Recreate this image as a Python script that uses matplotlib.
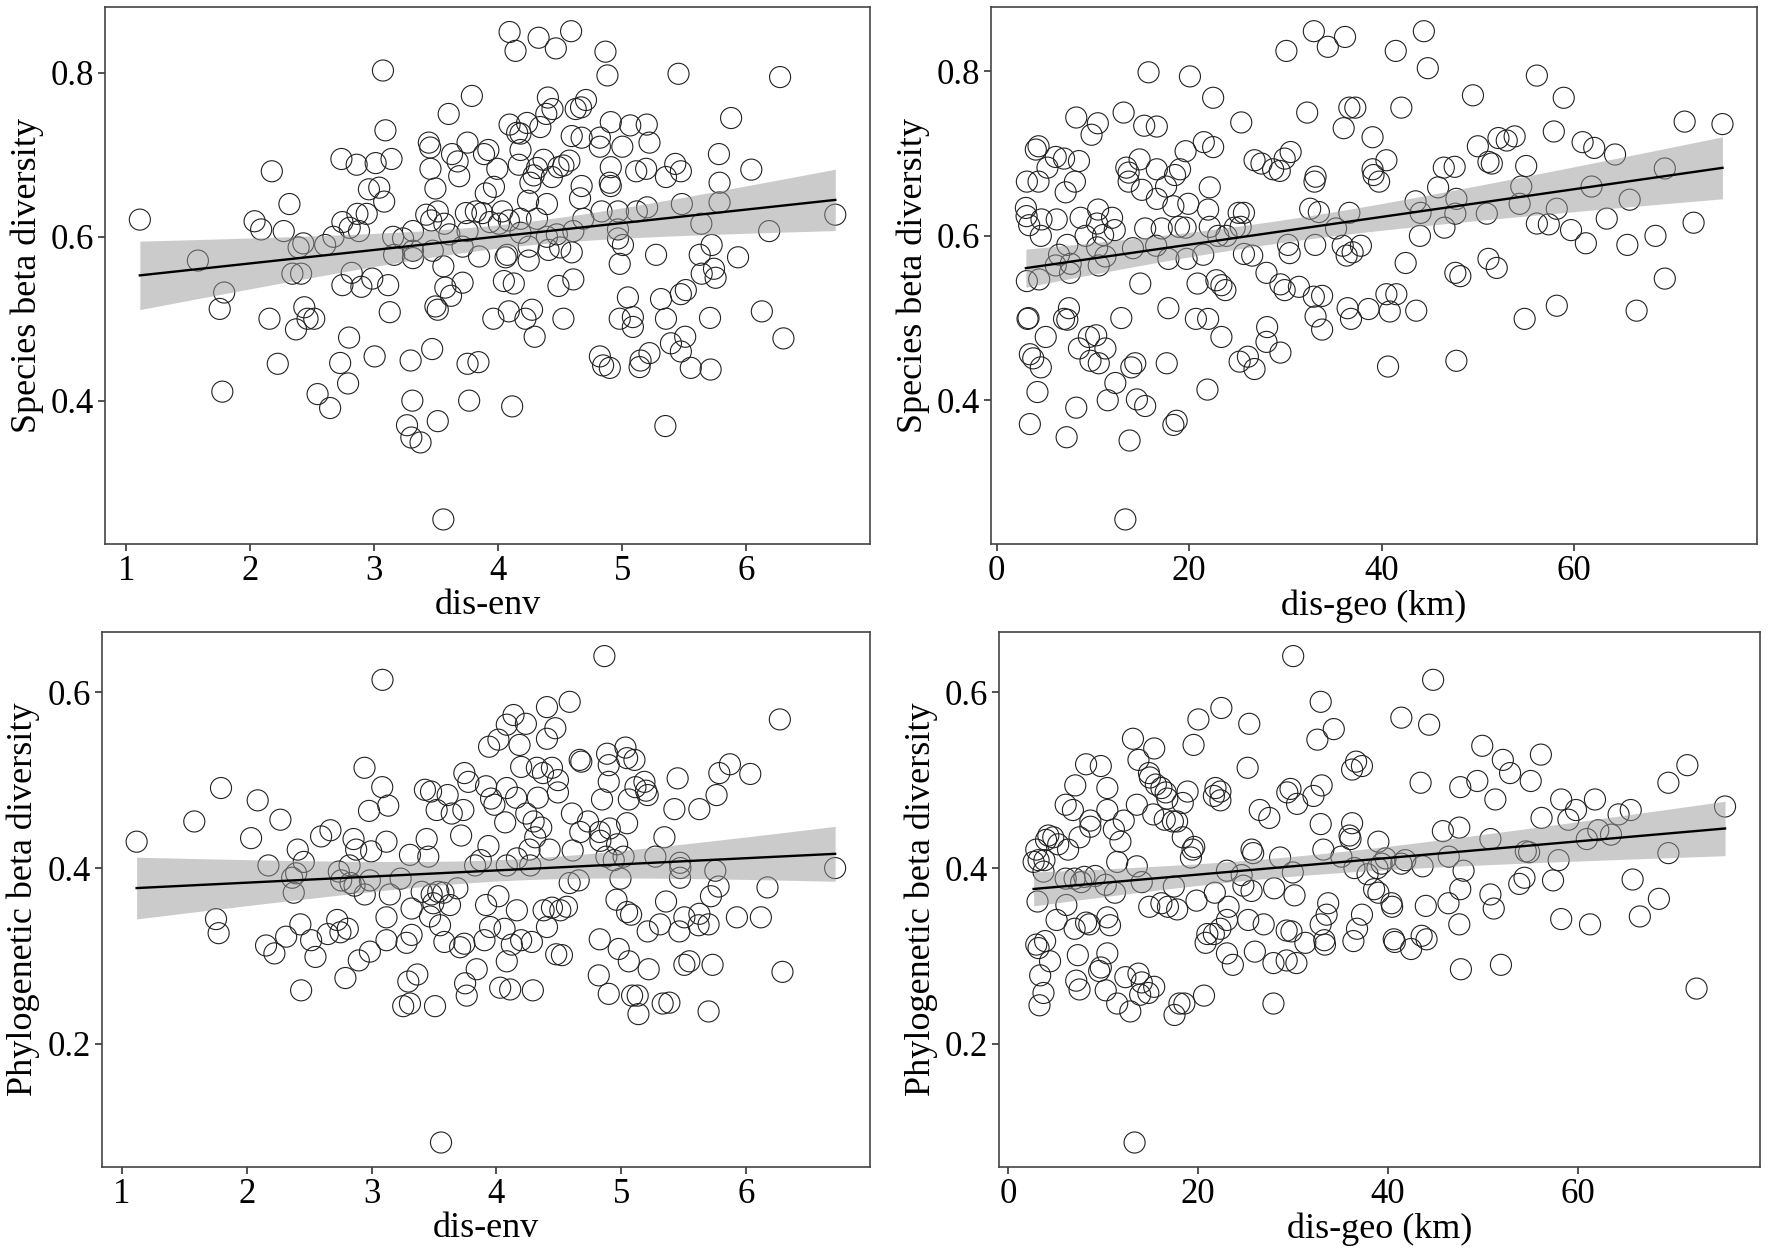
import numpy as np
import matplotlib
matplotlib.use('Agg')
import matplotlib.pyplot as plt

plt.rcParams['font.family'] = ['Liberation Serif', 'DejaVu Serif']

# Верхний левый: dis-env vs species beta
env_sp = [
    (1.11, 0.621), (1.578, 0.571), (1.79, 0.532), (1.754, 0.512), (1.775, 0.411), (2.174, 0.680),
    (2.316, 0.640), (2.035, 0.619), (2.088, 0.609), (2.27, 0.607), (2.155, 0.500), (2.222, 0.445),
    (2.39, 0.587), (2.428, 0.592), (2.34, 0.555), (2.41, 0.555), (2.436, 0.514), (2.462, 0.50),
    (2.516, 0.50), (2.369, 0.487), (2.543, 0.408), (2.644, 0.391), (2.604, 0.590), (2.671, 0.600),
    (2.735, 0.695), (2.858, 0.688), (2.743, 0.618), (2.802, 0.611), (2.864, 0.628), (2.877, 0.607),
    (2.939, 0.628), (2.818, 0.556), (2.743, 0.541), (2.896, 0.539), (2.984, 0.549), (2.797, 0.477),
    (2.725, 0.446), (2.789, 0.421), (3.003, 0.454), (2.957, 0.658), (3.011, 0.690), (3.04, 0.66),
    (3.07, 0.803), (3.09, 0.73), (3.08, 0.643),
    (4.091, 0.850), (4.139, 0.827), (4.325, 0.843), (4.464, 0.830), (4.587, 0.851), (4.864, 0.826),
    (4.880, 0.797), (3.787, 0.772), (3.60, 0.750), (4.40, 0.770), (4.437, 0.756), (4.387, 0.750),
    (4.624, 0.756), (4.667, 0.758), (4.707, 0.767), (4.091, 0.737), (4.152, 0.727), (4.232, 0.739),
    (4.179, 0.726), (4.339, 0.734), (4.907, 0.740), (3.44, 0.715), (3.451, 0.709), (3.752, 0.715),
    (3.627, 0.701), (3.672, 0.692), (3.92, 0.706), (3.885, 0.701), (3.453, 0.683), (3.685, 0.674),
    (3.992, 0.683), (4.179, 0.706), (4.165, 0.688), (4.592, 0.723), (4.672, 0.721), (4.819, 0.721),
    (4.819, 0.710), (5.0, 0.710), (4.365, 0.694), (4.312, 0.684), (4.285, 0.675), (4.485, 0.685),
    (4.525, 0.687), (4.573, 0.693), (4.432, 0.673), (4.907, 0.685), (4.899, 0.666), (4.907, 0.662),
    (4.259, 0.666), (4.672, 0.662), (4.659, 0.647), (4.832, 0.631), (3.139, 0.695), (3.493, 0.659),
    (3.899, 0.653), (3.965, 0.661), (4.24, 0.644), (4.392, 0.640), (3.419, 0.627), (3.512, 0.631),
    (3.565, 0.616), (3.459, 0.620), (3.605, 0.603), (3.739, 0.629), (3.819, 0.631), (3.872, 0.629),
    (4.032, 0.631), (3.933, 0.618), (4.005, 0.616), (4.085, 0.620), (4.179, 0.622), (4.312, 0.622),
    (3.752, 0.607), (4.179, 0.605), (4.392, 0.600), (4.472, 0.603), (4.605, 0.607), (4.685, 0.622),
    (4.965, 0.631), (4.965, 0.609), (3.152, 0.600), (3.232, 0.598), (3.312, 0.607), (3.16, 0.578),
    (3.312, 0.583), (3.312, 0.574), (3.472, 0.583), (3.712, 0.588), (3.845, 0.576), (4.072, 0.578),
    (4.059, 0.575), (4.245, 0.588), (4.245, 0.571), (4.405, 0.584), (4.499, 0.587), (4.592, 0.581),
    (4.965, 0.598), (5.005, 0.590), (3.557, 0.564), (4.979, 0.567), (3.112, 0.541), (3.712, 0.544),
    (3.573, 0.538), (3.619, 0.528), (4.045, 0.546), (4.125, 0.543), (4.485, 0.540), (4.605, 0.548),
    (3.125, 0.508), (3.493, 0.515), (3.512, 0.511), (3.96, 0.500), (4.085, 0.509), (4.219, 0.500),
    (4.272, 0.511), (4.293, 0.478), (4.525, 0.500), (4.979, 0.500), (5.045, 0.526), (3.293, 0.449),
    (3.467, 0.463), (3.752, 0.445), (3.84, 0.447), (4.819, 0.454), (4.845, 0.443), (4.899, 0.440),
    (3.307, 0.400), (3.765, 0.400), (4.112, 0.393), (3.264, 0.370), (3.299, 0.355), (3.373, 0.349),
    (3.512, 0.375), (3.557, 0.255),
    (5.453, 0.799), (6.272, 0.795), (5.877, 0.745), (5.064, 0.736), (5.197, 0.737), (5.219, 0.715),
    (5.779, 0.701), (6.04, 0.682), (5.112, 0.680), (5.192, 0.683), (5.427, 0.689), (5.472, 0.680),
    (5.352, 0.673), (5.784, 0.666), (5.2, 0.636), (5.117, 0.631), (5.48, 0.640), (5.784, 0.642),
    (5.637, 0.616), (6.717, 0.627), (6.184, 0.607), (5.272, 0.578), (5.624, 0.578), (5.72, 0.590),
    (5.933, 0.575), (5.64, 0.555), (5.739, 0.561), (5.752, 0.550), (5.312, 0.524), (5.472, 0.530),
    (5.512, 0.535), (5.085, 0.502), (5.085, 0.490), (5.352, 0.500), (5.707, 0.501), (6.125, 0.509),
    (6.299, 0.476), (5.392, 0.470), (5.507, 0.478), (5.472, 0.460), (5.139, 0.441), (5.147, 0.449),
    (5.219, 0.458), (5.552, 0.440), (5.712, 0.438), (5.347, 0.369),
]

# Верхний правый: dis-geo vs species beta
geo_sp = [
    (15.77, 0.799), (20.07, 0.794), (22.48, 0.768), (25.40, 0.738), (8.26, 0.744), (10.5, 0.737),
    (9.85, 0.723), (13.18, 0.750), (15.32, 0.734), (16.63, 0.733), (4.06, 0.705), (4.34, 0.709),
    (6.13, 0.696), (6.99, 0.694), (8.54, 0.691), (5.27, 0.683), (3.13, 0.666), (4.34, 0.666),
    (7.16, 0.653), (8.12, 0.666), (3.03, 0.634), (3.1, 0.624), (3.37, 0.613), (4.65, 0.620),
    (6.23, 0.620), (4.58, 0.600), (8.71, 0.622), (9.23, 0.600), (10.53, 0.632), (10.43, 0.615),
    (11.05, 0.601), (11.98, 0.622), (12.26, 0.607), (13.46, 0.683), (13.7, 0.677), (13.7, 0.666),
    (14.84, 0.693), (15.08, 0.656), (16.63, 0.681), (16.63, 0.645), (17.59, 0.660), (18.52, 0.674),
    (19.04, 0.681), (19.62, 0.703), (21.51, 0.714), (22.48, 0.708), (22.13, 0.659), (19.9, 0.639),
    (18.35, 0.636), (21.96, 0.632), (15.42, 0.609), (17.14, 0.609), (18.93, 0.611), (19.62, 0.610),
    (22.13, 0.611), (25.13, 0.628), (25.68, 0.628), (24.72, 0.610), (25.34, 0.611), (23.0, 0.600),
    (23.86, 0.600), (26.78, 0.692), (7.33, 0.589), (6.47, 0.577), (7.68, 0.566), (6.13, 0.564),
    (10.43, 0.586), (11.29, 0.575), (10.6, 0.564), (14.15, 0.585), (16.56, 0.588), (17.83, 0.572),
    (19.72, 0.572), (21.45, 0.577), (25.68, 0.578), (26.54, 0.576), (3.13, 0.545), (4.41, 0.547),
    (7.61, 0.555), (14.91, 0.542), (20.86, 0.542), (22.82, 0.546), (23.34, 0.540), (23.75, 0.534),
    (3.3, 0.500), (3.2, 0.499), (7.5, 0.512), (6.99, 0.499), (7.33, 0.498), (5.09, 0.477),
    (12.94, 0.500), (17.83, 0.512), (20.69, 0.499), (21.96, 0.499), (23.34, 0.477), (9.57, 0.477),
    (10.33, 0.479), (11.29, 0.463), (8.54, 0.463), (3.44, 0.456), (3.79, 0.451), (4.58, 0.440),
    (9.74, 0.448), (10.6, 0.445), (13.98, 0.440), (14.39, 0.445), (17.66, 0.445), (25.23, 0.447),
    (26.09, 0.453), (26.78, 0.438), (4.23, 0.410), (12.32, 0.421), (11.53, 0.400), (14.56, 0.401),
    (15.42, 0.393), (21.89, 0.413), (8.26, 0.391), (3.44, 0.371), (7.26, 0.355), (13.8, 0.351),
    (18.35, 0.370), (18.69, 0.375), (13.36, 0.255),
    (32.94, 0.849), (34.39, 0.830), (36.18, 0.842), (30.09, 0.825), (41.45, 0.825), (44.37, 0.849),
    (44.78, 0.804), (49.47, 0.771), (32.25, 0.750), (36.63, 0.756), (37.25, 0.756), (36.04, 0.731),
    (39.04, 0.720), (42.03, 0.756), (27.5, 0.688), (28.71, 0.681), (29.4, 0.679), (29.91, 0.694),
    (30.53, 0.702), (33.01, 0.666), (33.12, 0.672), (39.04, 0.681), (39.14, 0.674), (39.72, 0.666),
    (40.48, 0.692), (46.44, 0.683), (47.57, 0.684), (49.98, 0.709), (51.08, 0.690), (51.43, 0.688),
    (52.12, 0.719), (52.98, 0.716), (45.85, 0.659), (43.51, 0.642), (44.03, 0.628), (43.96, 0.600),
    (47.75, 0.645), (47.64, 0.627), (46.51, 0.610), (50.91, 0.627), (32.56, 0.633), (33.46, 0.629),
    (36.63, 0.628), (35.25, 0.609), (30.26, 0.589), (30.43, 0.579), (33.08, 0.589), (35.94, 0.588),
    (36.35, 0.576), (36.97, 0.580), (37.83, 0.588), (42.48, 0.567), (47.64, 0.555), (48.16, 0.551),
    (51.08, 0.572), (51.94, 0.561), (28.02, 0.555), (29.47, 0.541), (29.91, 0.534), (31.39, 0.538),
    (32.94, 0.526), (33.8, 0.527), (33.12, 0.502), (33.8, 0.486), (36.45, 0.512), (36.8, 0.499),
    (38.62, 0.511), (40.48, 0.529), (41.51, 0.529), (40.83, 0.508), (43.58, 0.509), (28.09, 0.489),
    (28.02, 0.471), (29.47, 0.458), (40.65, 0.441), (47.75, 0.448),
    (56.11, 0.795), (58.9, 0.768), (71.46, 0.739), (75.39, 0.736), (53.8, 0.721), (57.87, 0.727),
    (60.86, 0.714), (62.07, 0.707), (64.23, 0.699), (55.0, 0.685), (54.49, 0.660), (54.32, 0.639),
    (61.79, 0.660), (69.4, 0.682), (65.75, 0.644), (58.18, 0.633), (56.11, 0.615), (57.35, 0.614),
    (59.66, 0.607), (63.37, 0.621), (61.2, 0.591), (65.51, 0.589), (68.43, 0.600), (72.39, 0.616),
    (69.4, 0.548), (54.84, 0.499), (58.18, 0.515), (66.47, 0.509),
]

# Нижний левый: dis-env vs phylogenetic beta
env_phy = [
    (1.118, 0.430), (1.58, 0.453), (1.794, 0.491), (2.088, 0.477), (2.27, 0.455), (2.035, 0.434),
    (2.174, 0.403), (2.409, 0.421), (2.457, 0.407), (2.396, 0.394), (2.364, 0.389), (2.377, 0.372),
    (2.596, 0.436), (2.671, 0.443), (2.856, 0.433), (2.877, 0.421), (2.824, 0.403), (2.738, 0.396),
    (2.757, 0.386), (2.832, 0.383), (2.864, 0.380), (1.754, 0.342), (1.775, 0.326), (2.43, 0.336),
    (2.316, 0.322), (2.155, 0.312), (2.222, 0.303), (2.516, 0.318), (2.551, 0.299), (2.65, 0.325),
    (2.725, 0.341), (2.751, 0.327), (2.81, 0.331), (2.898, 0.295), (2.791, 0.275), (2.436, 0.261),
    (2.944, 0.514), (2.98, 0.465), (2.997, 0.419),
    (3.088, 0.614), (4.866, 0.641), (4.588, 0.589), (4.406, 0.583), (4.138, 0.574), (4.084, 0.563),
    (4.237, 0.564), (4.473, 0.559), (4.406, 0.547), (3.942, 0.538), (4.017, 0.546), (4.186, 0.540),
    (4.668, 0.523), (4.681, 0.521), (4.888, 0.530), (4.901, 0.517), (4.901, 0.498), (4.847, 0.478),
    (5.035, 0.537), (5.048, 0.525), (5.062, 0.478), (4.199, 0.515), (4.325, 0.514), (4.374, 0.508),
    (4.446, 0.514), (4.494, 0.500), (4.494, 0.486), (4.333, 0.480), (4.084, 0.491), (4.159, 0.480),
    (3.958, 0.479), (3.985, 0.472), (3.918, 0.493), (3.744, 0.508), (3.776, 0.498), (3.428, 0.489),
    (3.477, 0.487), (3.61, 0.483), (3.522, 0.466), (3.643, 0.462), (3.736, 0.466), (4.071, 0.452),
    (4.24, 0.462), (4.299, 0.453), (4.36, 0.446), (4.312, 0.435), (4.266, 0.421), (4.427, 0.421),
    (4.606, 0.462), (4.673, 0.441), (4.735, 0.453), (4.829, 0.441), (4.834, 0.431), (4.909, 0.445),
    (4.968, 0.427), (5.048, 0.451), (3.086, 0.492), (3.134, 0.471), (3.12, 0.430), (3.442, 0.433),
    (3.455, 0.413), (3.308, 0.415), (3.718, 0.437), (3.937, 0.425), (3.83, 0.403), (3.876, 0.409),
    (4.084, 0.403), (4.165, 0.411), (4.272, 0.403), (4.612, 0.420), (4.588, 0.383), (4.66, 0.386),
    (4.882, 0.413), (4.941, 0.409), (5.02, 0.413), (4.995, 0.388), (2.987, 0.386), (3.233, 0.388),
    (3.147, 0.370), (3.12, 0.344), (2.946, 0.370), (3.321, 0.354), (3.402, 0.373), (3.482, 0.370),
    (3.535, 0.373), (3.576, 0.372), (3.495, 0.360), (3.629, 0.358), (3.469, 0.345), (3.549, 0.335),
    (3.688, 0.377), (3.918, 0.358), (4.017, 0.368), (4.165, 0.352), (4.379, 0.352), (4.446, 0.355),
    (4.513, 0.352), (4.566, 0.356), (4.406, 0.333), (4.963, 0.364), (5.048, 0.350), (3.95, 0.333),
    (4.066, 0.331), (3.905, 0.318), (4.124, 0.313), (4.199, 0.318), (4.285, 0.316), (4.084, 0.294),
    (3.321, 0.324), (3.281, 0.315), (3.12, 0.318), (2.987, 0.305), (3.584, 0.316), (3.71, 0.310),
    (3.744, 0.314), (4.48, 0.302), (4.526, 0.301), (4.829, 0.319), (4.981, 0.308), (5.062, 0.294),
    (3.843, 0.285), (3.75, 0.269), (3.763, 0.255), (4.031, 0.264), (4.111, 0.262), (4.293, 0.261),
    (3.295, 0.271), (3.367, 0.279), (3.254, 0.243), (3.308, 0.246), (3.509, 0.243), (4.821, 0.278),
    (4.901, 0.257), (3.557, 0.088),
    (6.272, 0.569), (5.872, 0.518), (5.107, 0.523), (5.453, 0.502), (5.787, 0.508), (6.035, 0.507),
    (5.115, 0.492), (5.187, 0.498), (5.2, 0.488), (5.213, 0.483), (5.765, 0.483), (5.427, 0.467),
    (5.627, 0.467), (5.347, 0.435), (5.275, 0.413), (5.472, 0.406), (5.475, 0.400), (5.472, 0.389),
    (5.755, 0.397), (6.715, 0.400), (6.173, 0.378), (5.781, 0.379), (5.72, 0.368), (5.36, 0.362),
    (5.08, 0.347), (5.507, 0.344), (5.627, 0.348), (5.701, 0.336), (5.621, 0.335), (5.467, 0.328),
    (5.312, 0.336), (5.213, 0.328), (5.928, 0.344), (6.12, 0.344), (5.221, 0.285), (5.507, 0.290),
    (5.547, 0.294), (5.733, 0.290), (6.293, 0.282), (5.088, 0.255), (5.133, 0.255), (5.139, 0.234),
    (5.333, 0.246), (5.387, 0.247), (5.701, 0.237),
]

# Нижний правый: dis-geo vs phylogenetic beta
geo_phy = [
    (22.45, 0.582), (20.03, 0.569), (19.52, 0.540), (25.39, 0.564), (25.22, 0.514), (13.13, 0.547),
    (15.37, 0.536), (13.71, 0.523), (14.82, 0.508), (14.92, 0.503), (15.54, 0.495), (16.13, 0.491),
    (16.58, 0.486), (16.75, 0.479), (17.78, 0.453), (18.38, 0.435), (19.59, 0.424), (19.41, 0.421),
    (18.89, 0.487), (18.38, 0.474), (21.83, 0.491), (22.35, 0.487), (21.66, 0.482), (22.35, 0.477),
    (8.19, 0.518), (9.74, 0.516), (7.05, 0.494), (6.04, 0.472), (6.8, 0.466), (8.64, 0.454),
    (8.64, 0.447), (7.5, 0.435), (6.29, 0.421), (10.43, 0.491), (10.43, 0.466), (11.12, 0.444),
    (11.81, 0.430), (12.16, 0.454), (13.54, 0.472), (15.27, 0.461), (16.48, 0.455), (17.34, 0.453),
    (4.21, 0.437), (3.97, 0.432), (4.73, 0.435), (5.25, 0.427), (2.94, 0.421), (3.18, 0.409),
    (2.66, 0.407), (3.8, 0.409), (11.47, 0.407), (13.54, 0.402), (19.24, 0.412), (23.04, 0.397),
    (3.7, 0.396), (6.04, 0.388), (6.98, 0.388), (7.67, 0.384), (8.01, 0.390), (9.15, 0.391),
    (14.06, 0.384), (24.59, 0.392), (24.77, 0.380), (25.63, 0.374), (10.26, 0.381), (11.23, 0.372),
    (17.44, 0.379), (21.76, 0.372), (3.07, 0.362), (6.11, 0.358), (5.08, 0.341), (6.98, 0.331),
    (8.19, 0.338), (8.53, 0.336), (10.43, 0.344), (10.71, 0.335), (14.85, 0.356), (16.13, 0.360),
    (16.82, 0.356), (17.79, 0.353), (19.83, 0.363), (23.21, 0.356), (23.04, 0.341), (25.28, 0.341),
    (20.97, 0.325), (20.79, 0.315), (21.66, 0.325), (22.35, 0.331), (2.94, 0.313), (3.18, 0.309),
    (4.39, 0.294), (3.87, 0.317), (7.32, 0.301), (10.43, 0.303), (23.04, 0.303), (23.66, 0.290),
    (25.98, 0.305), (3.35, 0.278), (3.7, 0.258), (3.28, 0.244), (7.15, 0.272), (7.5, 0.262),
    (9.57, 0.283), (9.74, 0.287), (10.26, 0.261), (11.47, 0.246), (12.85, 0.237), (12.33, 0.276),
    (13.71, 0.280), (14.06, 0.270), (13.89, 0.256), (14.75, 0.258), (15.37, 0.265), (18.03, 0.246),
    (18.55, 0.246), (17.51, 0.233), (20.62, 0.255), (13.3, 0.088), (26.5, 0.466), (25.63, 0.421),
    (25.8, 0.417),
    (30.02, 0.641), (44.77, 0.614), (32.92, 0.589), (34.3, 0.558), (32.57, 0.546), (41.42, 0.571),
    (44.35, 0.563), (36.23, 0.512), (36.65, 0.521), (37.27, 0.516), (43.45, 0.497), (49.95, 0.539),
    (52.12, 0.523), (52.88, 0.508), (47.63, 0.492), (49.43, 0.499), (51.33, 0.478), (29.74, 0.490),
    (29.4, 0.486), (30.43, 0.473), (33.02, 0.494), (32.16, 0.482), (27.5, 0.457), (32.92, 0.450),
    (36.23, 0.451), (35.96, 0.437), (36.06, 0.433), (39.0, 0.430), (45.8, 0.442), (47.53, 0.446),
    (50.81, 0.433), (28.64, 0.412), (33.2, 0.421), (35.1, 0.413), (39.76, 0.411), (39.34, 0.405),
    (41.83, 0.409), (41.42, 0.405), (43.66, 0.402), (46.42, 0.413), (36.48, 0.400), (37.86, 0.393),
    (38.9, 0.400), (29.98, 0.395), (47.98, 0.397), (47.63, 0.376), (28.01, 0.377), (30.16, 0.369),
    (33.71, 0.360), (33.54, 0.347), (32.92, 0.336), (38.55, 0.376), (39.0, 0.372), (40.38, 0.360),
    (40.45, 0.356), (44.0, 0.357), (46.39, 0.360), (50.81, 0.370), (51.16, 0.354), (37.27, 0.347),
    (36.75, 0.331), (26.91, 0.336), (29.33, 0.329), (29.84, 0.328), (47.53, 0.336), (31.3, 0.315),
    (33.3, 0.318), (33.37, 0.313), (36.37, 0.317), (40.62, 0.319), (40.73, 0.316), (42.45, 0.308),
    (43.56, 0.323), (44.08, 0.319), (27.94, 0.292), (29.33, 0.295), (30.36, 0.292), (47.7, 0.285),
    (51.92, 0.290), (27.94, 0.246),
    (56.13, 0.529), (55.06, 0.499), (58.27, 0.478), (59.83, 0.466), (59.03, 0.455), (61.83, 0.478),
    (56.2, 0.457), (64.32, 0.461), (65.6, 0.466), (69.57, 0.497), (71.57, 0.517), (75.54, 0.470),
    (60.97, 0.433), (62.18, 0.443), (63.52, 0.438), (54.54, 0.419), (54.89, 0.418), (58.0, 0.409),
    (69.57, 0.417), (57.41, 0.386), (54.4, 0.389), (53.85, 0.382), (65.8, 0.387), (68.57, 0.365),
    (58.27, 0.342), (61.31, 0.336), (66.56, 0.345), (72.54, 0.263),
]

env_ticks = [1, 2, 3, 4, 5, 6]
geo_ticks = [0, 20, 40, 60]
sp_ticks = [0.4, 0.6, 0.8]
phy_ticks = [0.2, 0.4, 0.6]


def lm_band(x, y, n_grid=100):
    """Линейная регрессия + 95% доверительный интервал (как geom_smooth(method='lm'))"""
    n = len(x)
    b, a = np.polyfit(x, y, 1)
    resid = y - (a + b * x)
    s = np.sqrt(np.sum(resid ** 2) / (n - 2))
    xg = np.linspace(x.min(), x.max(), n_grid)
    sxx = np.sum((x - x.mean()) ** 2)
    se = s * np.sqrt(1.0 / n + (xg - x.mean()) ** 2 / sxx)
    yg = a + b * xg
    t = 1.97
    return xg, yg, yg - t * se, yg + t * se


def draw_panel(ax, pts, xticks, yticks, xlabel, ylabel):
    arr = np.array(pts)
    x, y = arr[:, 0], arr[:, 1]
    ax.scatter(x, y, s=230, facecolors='none', edgecolors='#222222', linewidths=0.8, zorder=2)
    xg, yg, lo, hi = lm_band(x, y)
    ax.fill_between(xg, lo, hi, color='#999999', alpha=0.5, linewidth=0, zorder=3)
    ax.plot(xg, yg, color='black', linewidth=1.7, zorder=4)

    # расширение осей 5% как в ggplot
    xr = x.max() - x.min()
    yr = y.max() - y.min()
    ax.set_xlim(x.min() - 0.05 * xr, x.max() + 0.05 * xr)
    ax.set_ylim(y.min() - 0.05 * yr, y.max() + 0.05 * yr)

    ax.set_xticks(xticks)
    ax.set_xticklabels([str(t) for t in xticks])
    ax.set_yticks(yticks)
    ax.set_yticklabels([str(t) for t in yticks])
    ax.tick_params(direction='out', length=5, width=1.2, color='#333333',
                   labelsize=25, pad=3)
    for sp in ax.spines.values():
        sp.set_color('#444444')
        sp.set_linewidth(1.2)
    ax.set_xlabel(xlabel, fontsize=26, labelpad=1)
    ax.set_ylabel(ylabel, fontsize=26, labelpad=5)


fig = plt.figure(figsize=(17.72, 12.56), dpi=100)

ax1 = fig.add_axes([0.0593, 0.567, 0.4317, 0.4276])
ax2 = fig.add_axes([0.5593, 0.567, 0.4324, 0.4276])
ax3 = fig.add_axes([0.0574, 0.071, 0.4336, 0.426])
ax4 = fig.add_axes([0.5638, 0.071, 0.4292, 0.426])

draw_panel(ax1, env_sp, env_ticks, sp_ticks, 'dis-env', 'Species beta diversity')
draw_panel(ax2, geo_sp, geo_ticks, sp_ticks, 'dis-geo (km)', 'Species beta diversity')
draw_panel(ax3, env_phy, env_ticks, phy_ticks, 'dis-env', 'Phylogenetic beta diversity')
draw_panel(ax4, geo_phy, geo_ticks, phy_ticks, 'dis-geo (km)', 'Phylogenetic beta diversity')

plt.savefig('out.png', dpi=100)
plt.close()
